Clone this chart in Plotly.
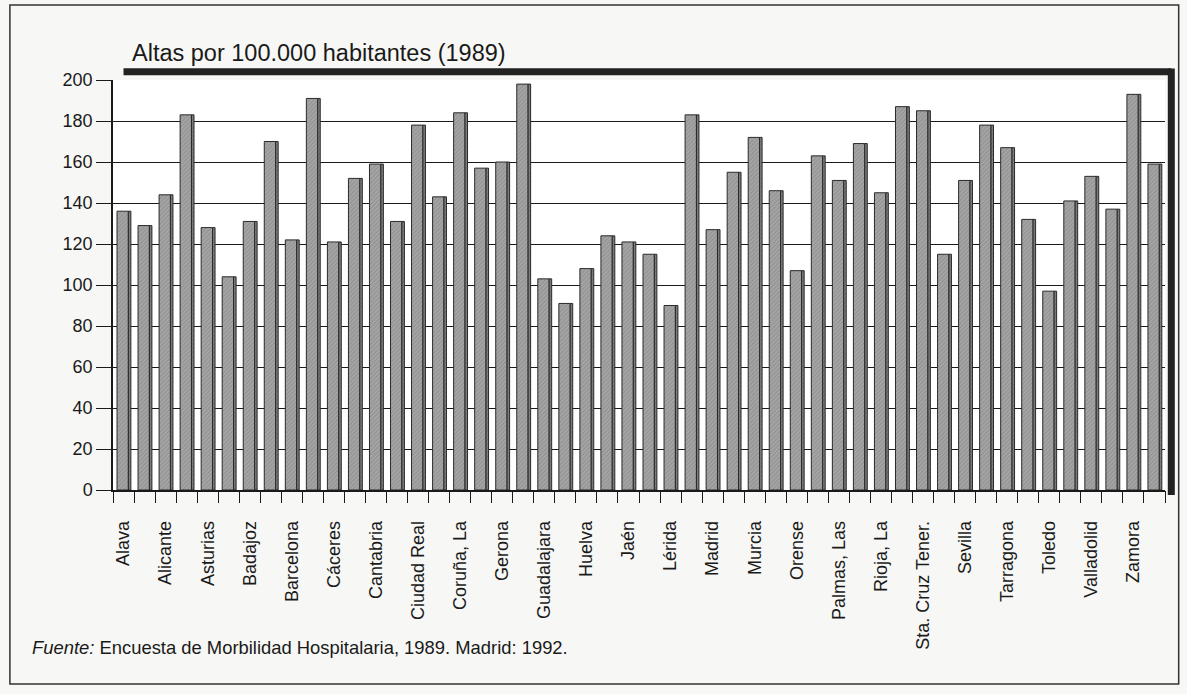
import plotly.graph_objects as go

provincias = [
    "Alava", "Albacete", "Alicante", "Almería", "Asturias", "Avila", "Badajoz", "Baleares",
    "Barcelona", "Burgos", "Cáceres", "Cádiz", "Cantabria", "Castellón", "Ciudad Real", "Córdoba",
    "Coruña, La", "Cuenca", "Gerona", "Granada", "Guadalajara", "Guipúzcoa", "Huelva", "Huesca",
    "Jaén", "León", "Lérida", "Lugo", "Madrid", "Málaga", "Murcia", "Navarra",
    "Orense", "Palencia", "Palmas, Las", "Pontevedra", "Rioja, La", "Salamanca", "Sta. Cruz Tener.", "Segovia",
    "Sevilla", "Soria", "Tarragona", "Teruel", "Toledo", "Valencia", "Valladolid", "Vizcaya",
    "Zamora", "Zaragoza",
]

altas = [
    136, 129, 144, 183, 128, 104, 131, 170,
    122, 191, 121, 152, 159, 131, 178, 143,
    184, 157, 160, 198, 103, 91, 108, 124,
    121, 115, 90, 183, 127, 155, 172, 146,
    107, 163, 151, 169, 145, 187, 185, 115,
    151, 178, 167, 132, 97, 141, 153, 137,
    193, 159,
]

y_ticks = [0, 20, 40, 60, 80, 100, 120, 140, 160, 180, 200]

x_pos = list(range(len(provincias)))
label_pos = x_pos[::2]
label_txt = provincias[::2]
# category boundaries, where the tick marks sit
bordes = [i - 0.5 for i in range(len(provincias) + 1)]

FONT = "Liberation Sans, Arial, Helvetica, sans-serif"
INK = "#1a1a1a"

fig = go.Figure()
# front face of each column
fig.add_trace(go.Bar(
    x=x_pos,
    y=altas,
    width=0.54,
    offset=-0.31,
    marker=dict(
        color="#a5a5a5",
        line=dict(color="#2a2a2a", width=1),
        pattern=dict(shape="/", fgcolor="#7a7a7a", size=3, solidity=0.35),
    ),
    hovertext=provincias,
    showlegend=False,
))
# darker side face for the depth effect (on the boundary-tick axis)
fig.add_trace(go.Bar(
    x=x_pos,
    y=altas,
    xaxis="x2",
    width=0.12,
    offset=0.23,
    marker=dict(
        color="#808080",
        line=dict(color="#2a2a2a", width=1),
        pattern=dict(shape="/", fgcolor="#5e5e5e", size=3, solidity=0.35),
    ),
    hoverinfo="skip",
    showlegend=False,
))

fig.update_layout(
    width=1187,
    height=694,
    margin=dict(l=113, r=22, t=80, b=204),
    paper_bgcolor="#f7f7f5",
    plot_bgcolor="#ffffff",
    font=dict(family=FONT, color=INK, size=17),
    barmode="overlay",
    xaxis=dict(
        range=[-0.5, 49.5],
        tickmode="array",
        tickvals=label_pos,
        ticktext=label_txt,
        tickangle=-90,
        ticks="",
        ticklabelstandoff=22,
        tickfont=dict(size=18),
        showgrid=False,
        showline=True,
        linecolor=INK,
        linewidth=1.5,
        zeroline=False,
    ),
    # tick marks between categories
    xaxis2=dict(
        overlaying="x",
        anchor="y",
        side="bottom",
        range=[-0.5, 49.5],
        tickmode="array",
        tickvals=bordes,
        ticktext=[""] * len(bordes),
        ticks="outside",
        ticklen=12,
        tickwidth=1.3,
        tickcolor=INK,
        showticklabels=False,
        showgrid=False,
        showline=False,
        zeroline=False,
    ),
    yaxis=dict(
        range=[0, 200],
        tickmode="array",
        tickvals=y_ticks,
        ticks="outside",
        ticklen=15,
        tickcolor=INK,
        tickwidth=1.2,
        tickfont=dict(size=18),
        showgrid=True,
        gridcolor=INK,
        gridwidth=1,
        showline=True,
        linecolor=INK,
        linewidth=1.5,
        zeroline=False,
    ),
    shapes=[
        # back-wall top edge and right edge of the 3D frame
        dict(type="line", xref="x domain", yref="y domain", x0=0.01, x1=1.006, y0=1.02, y1=1.02,
             line=dict(color="#222222", width=7)),
        dict(type="line", xref="x domain", yref="y domain", x0=1.006, x1=1.006, y0=1.028, y1=-0.012,
             line=dict(color="#222222", width=7)),
        # page border
        dict(type="rect", xref="paper", yref="paper", x0=-0.098, x1=1.013, y0=-0.473, y1=1.183,
             line=dict(color="#333333", width=1.5), fillcolor="rgba(0,0,0,0)", layer="below"),
    ],
    annotations=[
        dict(text="Altas por 100.000 habitantes (1989)", xref="paper", yref="paper",
             x=0.016, y=1.066, xanchor="left", yanchor="middle", showarrow=False,
             font=dict(size=23.5, family=FONT, color=INK)),
        dict(text="<i>Fuente:</i> Encuesta de Morbilidad Hospitalaria, 1989. Madrid: 1992.",
             xref="paper", yref="paper", x=-0.079, y=-0.385, xanchor="left", yanchor="middle",
             showarrow=False, font=dict(size=18.4, family=FONT, color=INK)),
    ],
)

fig.write_html("out.html")
